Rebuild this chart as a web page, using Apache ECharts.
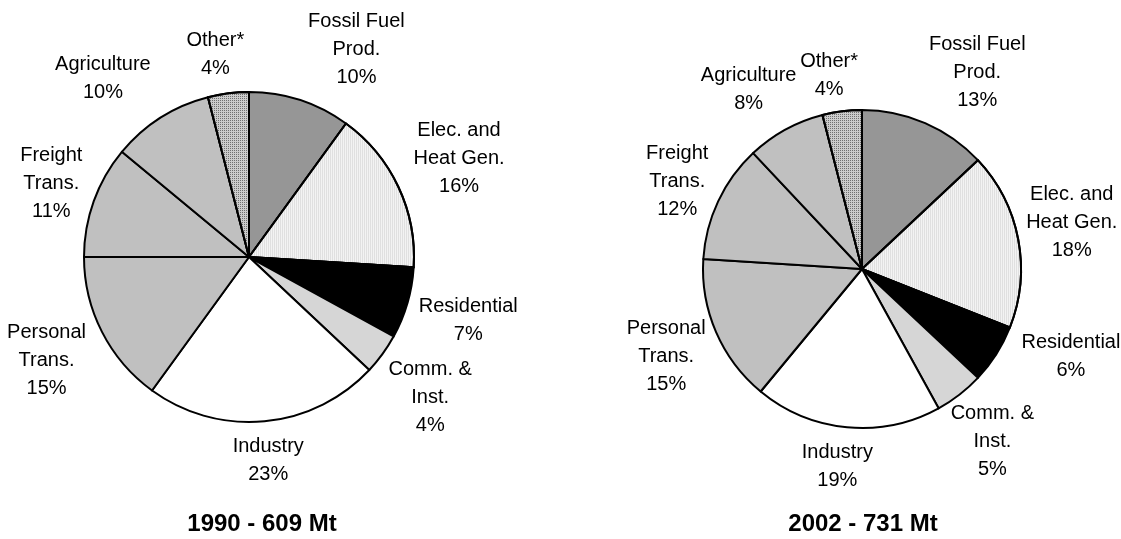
<!DOCTYPE html>
<html>
<head>
<meta charset="utf-8">
<script src="https://cdn.jsdelivr.net/npm/echarts@6/dist/echarts.min.js"></script>
<style>
html, body { margin: 0; padding: 0; background: #fff; }
#chart { width: 1121px; height: 539px; }
</style>
</head>
<body>
<div id="chart"></div>
<script>
var sectors = ['Fossil Fuel\nProd.', 'Elec. and\nHeat Gen.', 'Residential', 'Comm. &\nInst.', 'Industry',
               'Personal\nTrans.', 'Freight\nTrans.', 'Agriculture', 'Other*'];
var share1990 = [10, 16, 7, 4, 23, 15, 11, 10, 4];
var share2002 = [13, 18, 6, 5, 19, 15, 12, 8, 4];
var titles = ['1990 - 609 Mt', '2002 - 731 Mt'];

// fills, in sector order
var fills = ['#969696', '#f3f3f3', '#000000', '#d6d6d6', '#ffffff', '#c0c0c0', '#c0c0c0', '#c0c0c0', '#cccccc'];
var decals = [
    null,
    {symbol: 'rect', symbolSize: 1, dashArrayX: [1, 1], dashArrayY: [10, 0], color: 'rgba(0,0,0,0.08)'},
    null,
    null,
    null, null, null, null,
    {symbol: 'rect', symbolSize: 1, dashArrayX: [1, 1], dashArrayY: [1, 1], color: '#707070'}
];

var pies = [
    {center: [249, 257], r: 165, titleX: 257},
    {center: [862, 269], r: 159, titleX: 858}
];
// hand moved labels (Excel)
var nudges = [
    [[37, 9], [0, 0], [0, 0], [-6, 4], [0, 0], [0, 0], [6, 0], [-27, 9], [-8, 0]],
    [[26, 10], [-6, -5], [20, -32], [-8, -6], [-6, 0], [6, 0], [8, 3], [-10, 9], [-8, 3]]
];

var font = '"Liberation Sans", Arial, sans-serif';

function buildData(values) {
    return values.map(function (v, i) {
        var style = {color: fills[i]};
        if (decals[i]) style.decal = decals[i];
        return {name: sectors[i], value: v, itemStyle: style};
    });
}

function placeLabel(values, pie, nudge) {
    var total = values.reduce(function (a, b) { return a + b; }, 0);
    return function (params) {
        var before = 0;
        for (var k = 0; k < params.dataIndex; k++) before += values[k];
        var mid = (before + values[params.dataIndex] / 2) / total * Math.PI * 2;
        var ux = Math.sin(mid), uy = -Math.cos(mid);
        var w = params.labelRect.width, h = params.labelRect.height;
        var d = pie.r + 8 + Math.abs(ux) * w / 2 + Math.abs(uy) * h / 2;
        return {
            x: pie.center[0] + ux * d + nudge[params.dataIndex][0],
            y: pie.center[1] + uy * d + nudge[params.dataIndex][1],
            align: 'center',
            verticalAlign: 'middle'
        };
    };
}

function pieSeries(values, idx) {
    var pie = pies[idx];
    return {
        type: 'pie',
        center: pie.center,
        radius: pie.r,
        startAngle: 90,
        clockwise: true,
        avoidLabelOverlap: false,
        animation: false,
        silent: true,
        itemStyle: {borderColor: '#000', borderWidth: 2},
        label: {
            show: true,
            position: 'outside',
            color: '#000',
            fontFamily: font,
            fontSize: 20,
            lineHeight: 28,
            align: 'center',
            formatter: function (p) { return p.name + '\n' + p.value + '%'; }
        },
        labelLine: {show: false},
        labelLayout: placeLabel(values, pie, nudges[idx]),
        data: buildData(values)
    };
}

var option = {
    backgroundColor: '#fff',
    title: titles.map(function (t, i) {
        return {
            text: t,
            left: pies[i].titleX,
            top: 505,
            textAlign: 'center',
            textStyle: {fontFamily: font, fontSize: 24, fontWeight: 'bold', color: '#000', lineHeight: 28}
        };
    }),
    series: [pieSeries(share1990, 0), pieSeries(share2002, 1)]
};

var myChart = echarts.init(document.getElementById('chart'));
myChart.setOption(option);
</script>
</body>
</html>
